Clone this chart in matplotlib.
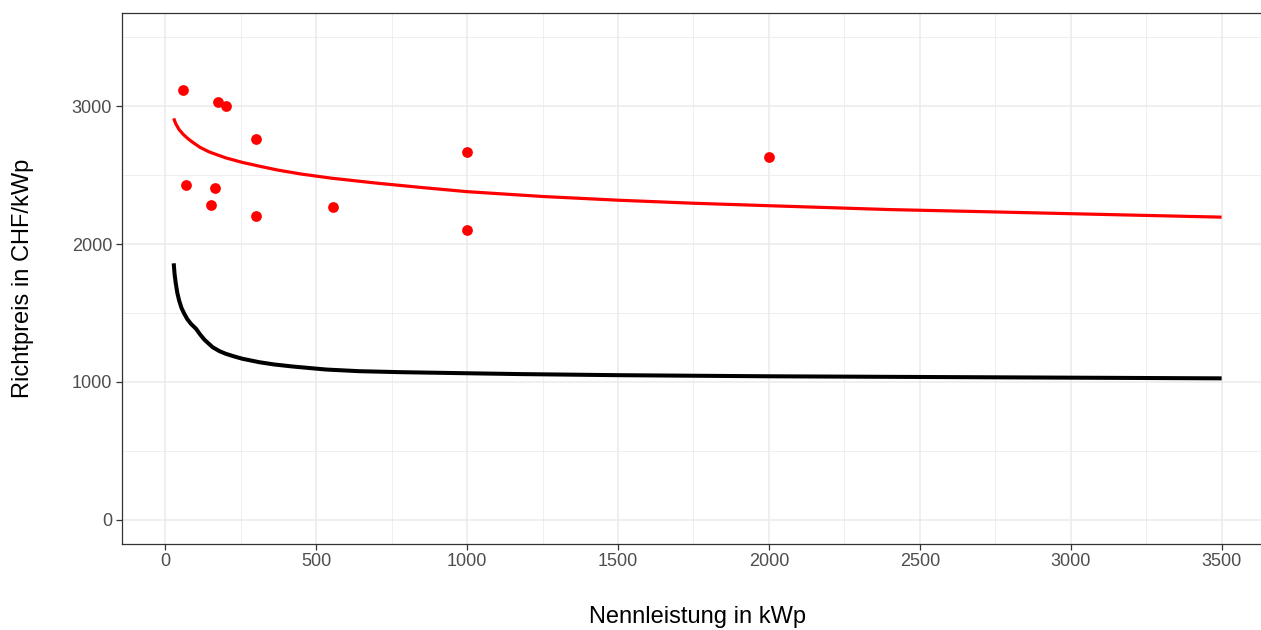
import matplotlib
matplotlib.use("Agg")
import matplotlib.pyplot as plt
from matplotlib.ticker import MultipleLocator

plt.rcParams['font.family'] = ['Liberation Sans', 'DejaVu Sans']

# offerierte Anlagen (Nennleistung kWp, Richtpreis CHF/kWp)
anlagen_kwp = [60, 175, 200, 300, 1000, 70, 165, 150, 300, 555, 1000, 2000]
anlagen_preis = [3115, 3030, 3000, 2760, 2665, 2430, 2405, 2285, 2200, 2270, 2100, 2630]

# Ausgleichskurve durch die Offerten
fit_kwp = [28, 35, 46, 60, 75, 91, 115, 146, 175, 201, 256, 312, 372, 450, 550, 700,
           850, 1000, 1250, 1500, 1750, 2000, 2400, 2765, 3100, 3500]
fit_preis = [2912, 2872, 2830, 2795, 2765, 2738, 2702, 2668, 2645, 2625, 2592, 2565, 2537, 2508, 2478, 2442,
             2410, 2380, 2345, 2318, 2296, 2278, 2250, 2232, 2215, 2195]

# Referenzkurve
ref_kwp = [28, 31, 35, 40, 46, 54, 63, 73, 85, 102, 115, 130, 157, 180, 201, 230, 256, 312, 360,
           422, 533, 643, 776, 1000, 1174, 1500, 2000, 2500, 3000, 3500]
ref_preis = [1860, 1780, 1712, 1645, 1590, 1535, 1494, 1455, 1421, 1385, 1345, 1305, 1251, 1222, 1203, 1183, 1167, 1142, 1126,
             1111, 1089, 1077, 1070, 1062, 1056, 1048, 1040, 1035, 1030, 1025]

fig = plt.figure(figsize=(12.61, 6.30), dpi=100)
ax = fig.add_axes([0.0967, 0.137, 0.9136, 0.842])

ax.plot(ref_kwp, ref_preis, color='black', linewidth=2.9, solid_capstyle='butt',
        solid_joinstyle='round', zorder=3)
ax.plot(fit_kwp, fit_preis, color='red', linewidth=2.3, solid_capstyle='butt',
        solid_joinstyle='round', zorder=3)
ax.scatter(anlagen_kwp, anlagen_preis, color='red', s=60, linewidths=0, zorder=4)

ax.set_xlim(-143.5, 3673.5)
ax.set_ylim(-175, 3675)
ax.xaxis.set_major_locator(MultipleLocator(500))
ax.xaxis.set_minor_locator(MultipleLocator(250))
ax.yaxis.set_major_locator(MultipleLocator(1000))
ax.yaxis.set_minor_locator(MultipleLocator(500))

ax.grid(which='major', color='#EBEBEB', linewidth=1.1)
ax.grid(which='minor', color='#EBEBEB', linewidth=0.55)
ax.set_axisbelow(True)

for side in ['left', 'bottom', 'top', 'right']:
    ax.spines[side].set_color('#333333')
    ax.spines[side].set_linewidth(0.9)

ax.tick_params(which='major', direction='out', length=4, width=0.9, color='#333333',
               labelcolor='#4D4D4D', labelsize=13, pad=3)
ax.tick_params(which='minor', length=0)

ax.set_xlabel('Nennleistung in kWp', fontsize=17)
ax.set_ylabel('Richtpreis in CHF/kWp', fontsize=17)
ax.xaxis.set_label_coords(0.5, -0.1174)
ax.yaxis.set_label_coords(-0.0764, 0.5)

fig.savefig('out.png', dpi=100)
